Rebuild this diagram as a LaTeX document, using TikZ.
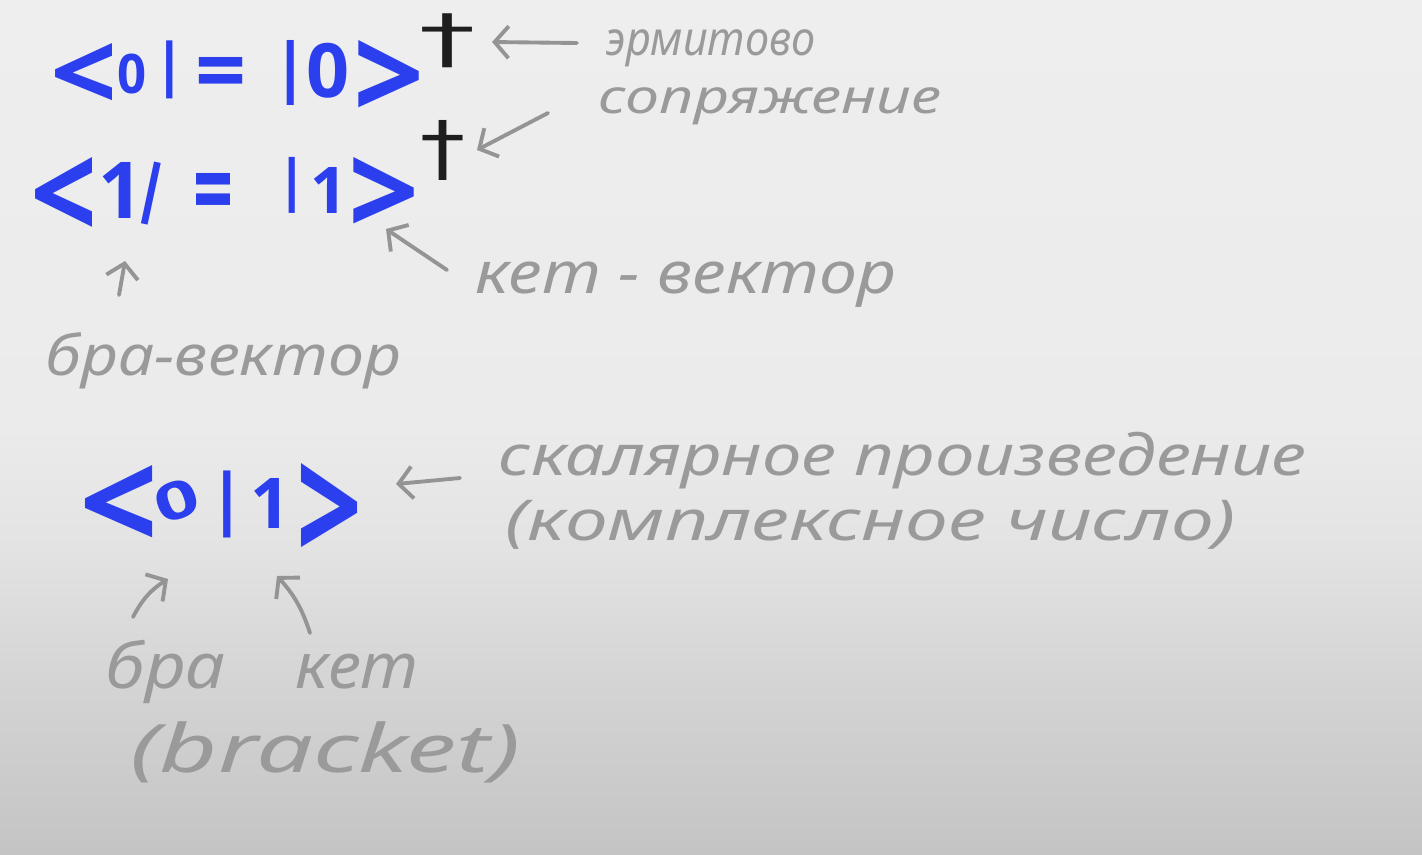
\documentclass[tikz,border=0pt]{standalone}
\usepackage{fontspec}
\usetikzlibrary{arrows.meta}
\newfontfamily\handfont{Noto Sans}
\newfontfamily\inkfont{Open Sans}
\newfontfamily\symbfont{DejaVu Sans}
\definecolor{inkblue}{HTML}{2B3FEE}
\definecolor{handgray}{HTML}{9A9A9A}
\definecolor{arrowgray}{HTML}{949494}
\definecolor{daggerblack}{HTML}{1E1E1E}
\definecolor{bg1}{HTML}{C4C4C4}
\definecolor{bg2}{HTML}{D4D4D4}
\definecolor{bg3}{HTML}{E3E3E3}
\definecolor{bg4}{HTML}{EBEBEB}
\definecolor{bg5}{HTML}{EEEEEE}
\newcommand\BG[3]{\resizebox*{#1cm}{#2cm}{#3}}
\newcommand\BH[2]{\resizebox*{!}{#1cm}{#2}}
\newcommand\HW[2]{\resizebox{#1cm}{\height}{#2}}
\pgfdeclareverticalshading{boardshade}{100bp}{color(0bp)=(bg1); color(25bp)=(bg1); color(35bp)=(bg2); color(43bp)=(bg3); color(50bp)=(bg4); color(75bp)=(bg5); color(100bp)=(bg5)}
\tikzset{
  glyph/.style={inner sep=0pt, anchor=north, text=inkblue, font=\inkfont\bfseries},
  dag/.style={inner sep=0pt, anchor=north, text=daggerblack, font=\symbfont},
  hand/.style={inner sep=0pt, anchor=base west, text=handgray},
  ptr/.style={draw=arrowgray, line width=1.1pt, line cap=round, -{Straight Barb[length=1.4mm,width=3.2mm]}},
}
\newcommand\hs[1]{\handfont\itshape\fontsize{#1}{#1}\selectfont}
\begin{document}
\begin{tikzpicture}[x=0.01cm,y=-0.01cm]
\shade[shading=boardshade] (0,0) rectangle (1422,854);
\useasboundingbox (0,0) rectangle (1422,854);
% formula 1
\node[glyph] (f1a) at (84.5,43) {\BG{0.67}{0.68}{<}};
\node[glyph] (f1b) at (132.5,53) {\BG{0.29}{0.40}{0}};
\node[glyph] (f1c) at (170,40) {\BH{0.58}{|}};
\node[glyph] (f1d) at (221,57) {\BG{0.51}{0.45}{=}};
\node[glyph] (f1e) at (291,40) {\BH{0.65}{|}};
\node[glyph] (f1f) at (328.5,42) {\BG{0.43}{0.55}{0}};
\node[glyph] (f1g) at (389,40) {\BG{0.71}{0.80}{>}};
\node[dag] (f1h) at (447.5,13) {\BG{0.56}{0.54}{†}};
% formula 2
\node[glyph] (f2a) at (64.5,157) {\BG{0.67}{0.83}{<}};
\node[glyph] (f2b) at (121,162) {\BH{0.56}{1}};
\node[glyph,rotate=-12] (f2c) at (157.5,162) {\BH{0.63}{|}};
\node[glyph] (f2d) at (213.5,173) {\BG{0.40}{0.54}{=}};
\node[glyph] (f2e) at (292.5,157) {\BH{0.56}{|}};
\node[glyph] (f2f) at (329,167) {\BH{0.46}{1}};
\node[glyph] (f2g) at (384,157) {\BG{0.71}{0.79}{>}};
\node[dag] (f2h) at (443,120) {\BG{0.45}{0.60}{†}};
% formula 3
\node[glyph] (f3a) at (119.5,465) {\BG{0.79}{0.86}{<}};
\node[glyph,rotate=20] (f3b) at (170,482) {\BG{0.44}{0.38}{0}};
\node[glyph] (f3c) at (227,470) {\BH{0.67}{|}};
\node[glyph] (f3d) at (270,478) {\BH{0.50}{1}};
\node[glyph] (f3e) at (330,463) {\BG{0.66}{1.00}{>}};
% handwritten labels
\node[hand] (l1) at (605,55) {\hs{13.5}\HW{2.10}{эрмитово}};
\node[hand] (l2) at (598,113) {\hs{13.5}\HW{3.42}{сопряжение}};
\node[hand] (l3) at (475,293) {\hs{16.5}\HW{4.20}{кет - вектор}};
\node[hand] (l4) at (45,375) {\hs{16}\HW{3.55}{бра-вектор}};
\node[hand] (l5) at (498,475) {\hs{16}\HW{8.07}{скалярное произведение}};
\node[hand] (l6) at (505,540) {\hs{16}\HW{7.30}{(комплексное число)}};
\node[hand] (l7) at (105,688) {\hs{18}\HW{1.20}{бра}};
\node[hand] (l8) at (295,688) {\hs{18}\HW{1.23}{кет}};
\node[hand] (l9) at (130,772) {\hs{19}\HW{3.90}{(bracket)}};
% arrow ends
\coordinate (t1) at (577,43);  \coordinate (h1) at (492,42);
\coordinate (t2) at (548,113); \coordinate (h2) at (477,150);
\coordinate (t3) at (447,270); \coordinate (h3) at (386,229);
\coordinate (t4) at (119,295); \coordinate (h4) at (125,261);
\coordinate (t5) at (460,478); \coordinate (h5) at (396,484);
\coordinate (t6) at (133,617); \coordinate (h6) at (168,579);
\coordinate (t7) at (310,633); \coordinate (h7) at (277,576);
\draw[ptr] (t1) -- (h1);
\draw[ptr] (t2) -- (h2);
\draw[ptr] (t3) -- (h3);
\draw[ptr] (t4) -- (h4);
\draw[ptr] (t5) -- (h5);
\draw[ptr] (t6) to[bend left=15] (h6);
\draw[ptr] (t7) to[bend right=12] (h7);
\end{tikzpicture}
\end{document}
